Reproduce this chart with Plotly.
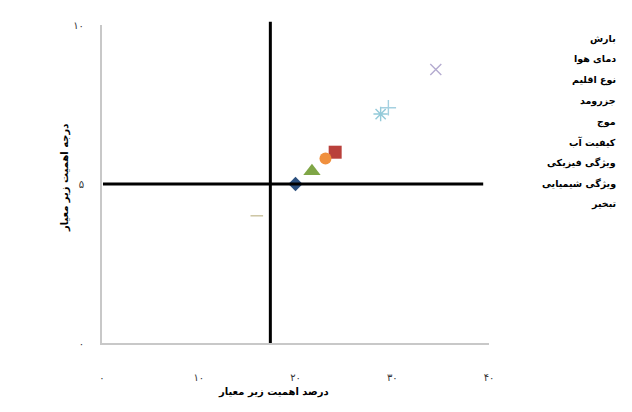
import plotly.graph_objects as go

# ---------------------------------------------------------------------------
# Data
# ---------------------------------------------------------------------------

series_names = [
    "بارش", "دمای هوا", "نوع اقلیم", "جزرومد", "موج",
    "کیفیت آب", "ویژگی فیزیکی", "ویژگی شیمیایی", "تبخیر",
]
# x = درصد اهمیت زیر معیار, y = درجه اهمیت زیر معیار
x_values = [20.0, 24.1, 21.7, 34.5, 28.8, 23.1, 29.6, 16.0, None]
y_values = [5.0, 6.0, 5.4, 8.6, 7.2, 5.8, 7.4, 4.0, None]

symbols = [
    "diamond", "square", "triangle-up", "x-thin-open", "asterisk-open",
    "circle", "cross-thin-open", "line-ew-open", "diamond",
]
colors = [
    "#2b4f7e", "#b9403b", "#7fa646", "#b4abd0", "#93cad9",
    "#f0903e", "#a4d0e0", "#c9c19c", "#2b4f7e",
]
sizes = [11, 13, 15, 11, 12, 12, 11, 9, 11]

x_ticks = [0, 10, 20, 30, 40]
x_ticktext = ["٠", "١٠", "٢٠", "٣٠", "۴٠"]
y_ticks = [0, 5, 10]
y_ticktext = ["٠", "۵", "١٠"]

x_title = "درصد اهمیت زیر معیار"
y_title = "درجه اهمیت زیر معیار"

x_cut = 17.4   # vertical divider
y_cut = 5      # horizontal divider
h_line_end = 39.4

FONT = "DejaVu Sans"

fig = go.Figure()

for name, x, y, sym, col, sz in zip(series_names, x_values, y_values,
                                     symbols, colors, sizes):
    thin = sym.endswith("-open")
    fig.add_trace(go.Scatter(
        x=[x], y=[y], name=name, mode="markers",
        marker=dict(
            symbol=sym, size=sz, color=col,
            line=dict(color=col, width=1.4 if thin else 0),
        ),
        showlegend=False,
    ))

# divider lines
fig.add_shape(type="line", xref="x", yref="paper", x0=x_cut, x1=x_cut,
              y0=0, y1=1.01, line=dict(color="black", width=3))
fig.add_shape(type="line", xref="x", yref="y", x0=0.1, x1=h_line_end,
              y0=y_cut, y1=y_cut, line=dict(color="black", width=3))

# legend drawn as plain text (the reference shows names only)
for i, name in enumerate(series_names):
    fig.add_annotation(
        text=f"<b>{name}</b>", xref="paper", yref="paper",
        x=(618 - 102) / 387, y=(343 - (33 + i * 21.1)) / 324,
        xanchor="right", yanchor="middle", showarrow=False,
        font=dict(family=FONT, size=9.5, color="black"),
    )

# axis titles as annotations (x title sits left of the plot centre)
fig.add_annotation(
    text=f"<b>{x_title}</b>", xref="paper", yref="paper",
    x=(273 - 102) / 387, y=(343 - 393) / 324,
    xanchor="center", yanchor="middle", showarrow=False,
    font=dict(family=FONT, size=10, color="black"),
)
fig.add_annotation(
    text=f"<b>{y_title}</b>", xref="paper", yref="paper",
    x=(65 - 102) / 387, y=(343 - 175) / 324, textangle=-90,
    xanchor="center", yanchor="middle", showarrow=False,
    font=dict(family=FONT, size=10, color="black"),
)

# the page body adds an 8px offset, so margins are shifted by that
fig.update_layout(
    width=632, height=412,
    margin=dict(l=94, r=151, t=11, b=77),
    paper_bgcolor="white", plot_bgcolor="white",
    font=dict(family=FONT, color="#333333"),
    showlegend=False,
)

fig.update_xaxes(
    range=[0, 40], tickvals=x_ticks, ticktext=x_ticktext,
    showgrid=False, zeroline=False,
    showline=True, linecolor="#c8c8c8", linewidth=2,
    ticks="", ticklabelstandoff=24,
    tickfont=dict(family=FONT, size=10, color="#333333"),
)
fig.update_yaxes(
    range=[0, 10], tickvals=y_ticks, ticktext=y_ticktext,
    showgrid=False, zeroline=False,
    showline=True, linecolor="#c8c8c8", linewidth=2,
    ticks="", ticklabelstandoff=14,
    tickfont=dict(family=FONT, size=10, color="#333333"),
)

fig.write_html("out.html")
